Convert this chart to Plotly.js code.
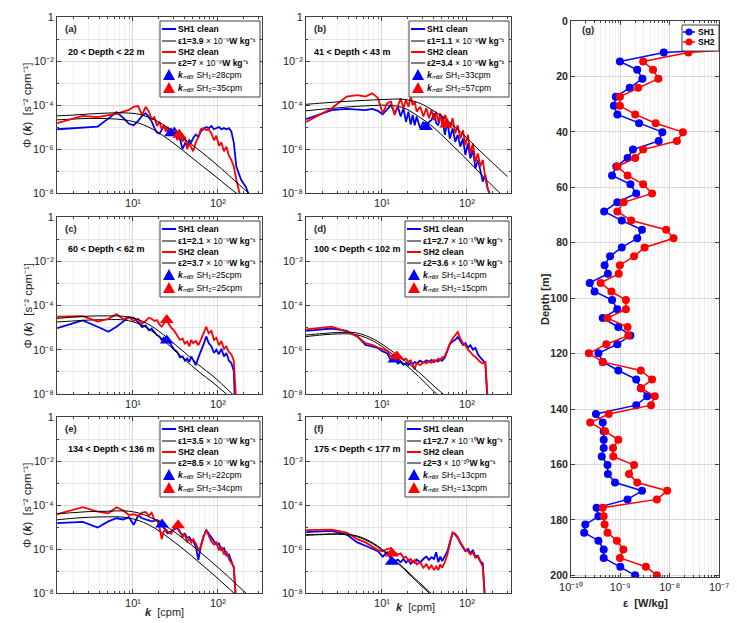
<!DOCTYPE html>
<html>
<head>
<meta charset="utf-8">
<script src="https://cdn.plot.ly/plotly-3.0.1.min.js"></script>
<style>
  body { margin: 0; background: #fff; }
  #chart { width: 737px; height: 623px; }
</style>
</head>
<body>
<div id="chart"></div>
<script>
// wavenumber grid of the shear spectra [cpm]
const kGrid = [1.28, 2.56, 3.84, 5.12, 6.4, 7.68, 8.96, 10.2, 11.5, 12.8, 14.1, 15.4, 16.6, 17.9, 19.2, 20.5,
  21.8, 23.0, 24.3, 25.6, 28.2, 30.7, 33.3, 35.8, 38.4, 41.0, 43.5, 46.1, 48.6, 51.2, 55, 59, 63, 68, 73, 78,
  84, 90, 96, 103, 110, 118, 126, 135, 144, 154, 165, 176, 188, 200, 215, 230, 245];
// wavenumbers of the fitted model spectra
const modelK = [1.25, 2, 3, 5, 8, 12, 18, 27, 40, 60, 90, 135, 200, 300];

// (a) 20 < depth < 22 m
const aSH1 = [7.9e-6, 9.3e-6, 1.05e-5, 2.4e-5, 4.7e-5, 2.6e-5, 1.4e-5, 1.2e-5, 1.9e-5, 3.2e-5, 4.2e-5, 2.8e-5,
  1.8e-5, 8.9e-6, 5.6e-6, 5.0e-6, 7.9e-6, 1.05e-5, 8.9e-6, 6.3e-6, 5.6e-6, 8.9e-6, 5.6e-6, 2.8e-6, 1.0e-6,
  1.8e-6, 1.4e-6, 2.5e-6, 2.0e-6, 3.2e-6, 4.5e-6, 3.5e-6, 6.3e-6, 7.9e-6, 1.0e-5, 8.9e-6, 1.1e-5, 7.9e-6,
  8.9e-6, 1.0e-5, 7.9e-6, 8.9e-6, 7.9e-6, 8.9e-6, 6.3e-6, 2.0e-6, 1.6e-7, 7.9e-8, 4.0e-8, 2.8e-8, 1.8e-8, 8.9e-9];
const aSH2 = [1.5e-5, 3.2e-5, 2.8e-5, 3.5e-5, 4.0e-5, 5.0e-5, 6.0e-5, 8.3e-5, 8.9e-5, 3.5e-5, 8.3e-5, 5.0e-5,
  2.2e-5, 2.8e-5, 1.1e-5, 1.8e-5, 7.9e-6, 1.26e-5, 6.3e-6, 1.0e-5, 4.5e-6, 7.1e-6, 2.5e-6, 5.0e-6, 2.2e-6,
  3.5e-6, 1.0e-6, 1.8e-6, 1.1e-6, 7.9e-7, 2.0e-6, 3.5e-6, 7.9e-6, 8.9e-6, 7.1e-6, 7.9e-6, 5.0e-6, 2.5e-6,
  4.0e-6, 1.4e-6, 2.0e-6, 7.9e-7, 1.26e-6, 5.0e-7, 3.2e-7, 1.6e-7, 4.0e-8, 1.1e-8, 5.0e-9];
const aEps1 = [2.1e-5, 2.3e-5, 2.45e-5, 2.4e-5, 2.1e-5, 1.45e-5, 7.1e-6, 2.5e-6, 7.8e-7, 2.2e-7, 6.5e-8, 1.8e-8, 5.6e-9, 1.6e-9];
const aEps2 = [3.2e-5, 3.5e-5, 3.9e-5, 4.3e-5, 4.4e-5, 3.7e-5, 2.1e-5, 8.3e-6, 2.9e-6, 8.9e-7, 2.5e-7, 6.3e-8, 1.6e-8, 4.5e-9];
const aKmax = [28, 35];
const aKmaxPhi = [5.2e-6, 4.5e-6];

// (b) 41 < depth < 43 m
const bSH1 = [2.3e-5, 5.9e-5, 6.6e-5, 6.3e-5, 5.9e-5, 6.6e-5, 5.4e-5, 3.8e-5, 6.6e-5, 1.0e-4, 4.2e-5, 8.3e-5,
  3.0e-5, 7.1e-5, 1.7e-5, 5.0e-5, 1.3e-5, 3.5e-5, 1.2e-5, 3.0e-5, 8.7e-6, 1.7e-5, 1.05e-5, 1.7e-5, 2.1e-5,
  4.2e-5, 1.5e-5, 1.2e-5, 3.5e-5, 3.0e-5, 4.4e-6, 1.7e-5, 3.0e-6, 8.7e-6, 2.1e-6, 4.4e-6, 1.3e-6, 3.0e-6,
  5.4e-7, 1.8e-6, 3.8e-7, 8.9e-7, 1.3e-7, 3.2e-7, 1.1e-7, 3.3e-8, 6.6e-8, 1.6e-8, 8.1e-9];
const bSH2 = [1.7e-5, 7.1e-5, 2.4e-4, 2.8e-4, 2.4e-4, 3.4e-4, 2.1e-4, 4.2e-5, 1.2e-4, 1.4e-4, 3.5e-5, 1.0e-4,
  2.0e-4, 7.1e-5, 1.7e-4, 8.3e-5, 2.4e-4, 1.0e-4, 1.4e-4, 5.0e-5, 8.3e-5, 3.0e-5, 7.1e-5, 2.5e-5, 5.9e-5,
  2.1e-5, 5.0e-5, 1.7e-5, 4.2e-5, 1.2e-5, 3.5e-5, 2.1e-5, 8.7e-6, 2.5e-5, 5.1e-6, 1.2e-5, 3.0e-6, 7.2e-6,
  1.5e-6, 4.4e-6, 6.3e-7, 1.8e-6, 2.6e-7, 6.3e-7, 1.6e-7, 3.2e-7, 4.7e-8, 1.6e-8, 8.1e-9];
const bEps1 = [5.4e-5, 6.5e-5, 7.4e-5, 8.7e-5, 9.5e-5, 9.8e-5, 7.4e-5, 3.0e-5, 1.0e-5, 2.3e-6, 5.0e-7, 1.0e-7, 2.1e-8, 5.0e-9];
const bEps2 = [1.07e-4, 1.23e-4, 1.38e-4, 1.55e-4, 1.7e-4, 1.82e-4, 1.82e-4, 1.26e-4, 5.6e-5, 1.86e-5, 4.7e-6, 1.0e-6, 2.4e-7, 5.6e-8];
const bKmax = [33, 57];
const bKmaxPhi = [1.0e-5, 1.3e-5];

// (c) 60 < depth < 62 m
const cSH1 = [9.5e-6, 2.1e-5, 1.1e-5, 6.5e-6, 1.1e-5, 2.0e-5, 3.0e-5, 2.8e-5, 1.8e-5, 1.05e-5, 1.26e-5, 7.6e-6,
  8.9e-6, 6.3e-6, 4.5e-6, 4.0e-6, 2.75e-6, 3.5e-6, 2.5e-6, 2.8e-6, 1.6e-6, 1.0e-6, 7.9e-7, 4.5e-7, 5.0e-7,
  3.2e-7, 4.0e-7, 2.8e-7, 5.0e-7, 3.5e-7, 2.0e-7, 4.5e-7, 7.9e-7, 1.8e-6, 4.0e-6, 2.0e-6, 1.4e-6, 7.1e-7,
  1.0e-6, 6.3e-7, 1.1e-6, 5.0e-7, 7.1e-7, 3.2e-7, 2.5e-7, 1.1e-7, 1.0e-10];
const cSH2 = [3.1e-5, 3.3e-5, 1.9e-5, 2.5e-5, 4.1e-5, 2.4e-5, 3.0e-5, 2.0e-5, 2.5e-5, 1.5e-5, 2.0e-5, 2.8e-5,
  2.5e-5, 2.0e-5, 2.2e-5, 1.4e-5, 1.1e-5, 1.6e-5, 2.0e-5, 1.8e-5, 1.0e-5, 7.1e-6, 4.5e-6, 2.8e-6, 3.2e-6,
  1.8e-6, 2.5e-6, 1.4e-6, 2.8e-6, 2.0e-6, 2.5e-6, 1.6e-6, 2.8e-6, 6.3e-6, 1.1e-5, 5.6e-6, 7.1e-6, 2.8e-6,
  3.5e-6, 1.6e-6, 2.5e-6, 1.1e-6, 1.4e-6, 7.9e-7, 6.3e-7, 3.2e-7, 3.2e-9];
const cEps1 = [1.8e-5, 2.0e-5, 2.2e-5, 2.3e-5, 2.2e-5, 1.45e-5, 5.6e-6, 1.5e-6, 3.8e-7, 1.0e-7, 3.0e-8, 7.9e-9, 2.0e-9, 5.0e-10];
const cEps2 = [2.6e-5, 3.0e-5, 3.3e-5, 3.4e-5, 3.2e-5, 2.2e-5, 9.5e-6, 2.8e-6, 7.9e-7, 2.0e-7, 5.9e-8, 1.4e-8, 3.5e-9, 1.0e-9];
const cKmax = [25, 25];
const cKmaxPhi = [2.6e-6, 2.2e-5];

// (d) 100 < depth < 102 m
const dSH1 = [7.1e-6, 9.1e-6, 7.1e-6, 4.0e-6, 1.66e-6, 1.45e-6, 1.2e-6, 8.3e-7, 7.1e-7, 3.2e-7, 4.5e-7, 2.4e-7,
  2.8e-7, 2.1e-7, 2.5e-7, 2.0e-7, 2.6e-7, 2.2e-7, 2.8e-7, 2.4e-7, 3.2e-7, 2.6e-7, 3.3e-7, 2.75e-7, 3.5e-7,
  2.8e-7, 3.3e-7, 3.0e-7, 3.8e-7, 3.2e-7, 4.5e-7, 8.9e-7, 1.8e-6, 2.4e-6, 2.8e-6, 3.8e-6, 2.5e-6, 1.66e-6,
  2.0e-6, 1.26e-6, 1.6e-6, 1.0e-6, 1.2e-6, 6.3e-7, 4.5e-7, 3.2e-7, 2.5e-7, 3.2e-9];
const dSH2 = [8.3e-6, 1.1e-5, 6.6e-6, 4.0e-6, 2.0e-6, 1.66e-6, 1.26e-6, 1.05e-6, 8.9e-7, 5.0e-7, 6.3e-7, 4.2e-7,
  5.0e-7, 3.5e-7, 4.0e-7, 2.8e-7, 3.3e-7, 2.2e-7, 1.3e-7, 2.5e-7, 2.0e-7, 2.8e-7, 2.4e-7, 3.2e-7, 2.6e-7,
  3.5e-7, 3.0e-7, 4.0e-7, 3.3e-7, 4.5e-7, 5.0e-7, 1.0e-6, 1.9e-6, 3.2e-6, 4.5e-6, 6.3e-6, 3.2e-6, 2.0e-6,
  1.6e-6, 1.0e-6, 7.9e-7, 5.6e-7, 4.8e-7, 3.5e-7, 2.8e-7, 2.4e-7, 2.8e-7, 6.3e-9];
const dEps1 = [3.9e-6, 4.7e-6, 5.2e-6, 4.8e-6, 2.4e-6, 8.5e-7, 2.5e-7, 6.3e-8, 1.4e-8, 3.5e-9, 8.9e-10, 2.2e-10, 5.6e-11, 1.4e-11];
const dEps2 = [4.6e-6, 5.4e-6, 6.0e-6, 5.8e-6, 3.0e-6, 1.1e-6, 3.5e-7, 1.0e-7, 2.5e-8, 6.3e-9, 1.6e-9, 4.0e-10, 1.0e-10, 2.5e-11];
const dKmax = [14, 15];
const dKmaxPhi = [3.6e-7, 5.0e-7];

// (e) 134 < depth < 136 m
const eSH1 = [1.5e-5, 1.7e-5, 9.5e-6, 1.8e-5, 2.5e-5, 2.2e-5, 2.8e-5, 1.26e-5, 3.3e-5, 2.5e-5, 2.2e-5, 2.0e-5,
  1.8e-5, 1.9e-5, 2.1e-5, 1.8e-5, 1.26e-5, 8.9e-6, 7.1e-6, 5.2e-6, 6.3e-6, 7.9e-6, 8.9e-6, 5.6e-6, 4.4e-6,
  5.0e-6, 3.2e-6, 3.5e-6, 2.5e-6, 2.2e-6, 1.26e-6, 3.2e-7, 1.4e-6, 4.0e-6, 7.2e-6, 5.0e-6, 3.2e-6, 2.5e-6,
  1.6e-6, 1.8e-6, 8.9e-7, 1.1e-6, 5.0e-7, 5.6e-7, 2.5e-7, 1.4e-7, 2.5e-9];
const eSH2 = [3.8e-5, 7.9e-5, 5.0e-5, 4.2e-5, 7.9e-5, 5.6e-5, 3.5e-5, 3.8e-5, 3.2e-5, 4.5e-5, 4.8e-5, 3.2e-5,
  4.5e-5, 2.1e-5, 2.0e-5, 1.0e-5, 2.8e-6, 6.3e-6, 7.9e-6, 6.3e-6, 5.0e-6, 8.9e-6, 1.1e-5, 6.3e-6, 3.5e-6,
  4.5e-6, 2.2e-6, 2.8e-6, 2.0e-6, 2.8e-6, 1.8e-6, 8.9e-7, 1.26e-6, 3.5e-6, 7.2e-6, 4.0e-6, 2.2e-6, 1.6e-6,
  2.0e-6, 8.9e-7, 1.26e-6, 5.6e-7, 7.9e-7, 3.5e-7, 2.5e-7, 1.6e-7, 3.2e-9];
const eEps1 = [2.1e-5, 2.5e-5, 2.75e-5, 2.9e-5, 2.75e-5, 1.9e-5, 8.9e-6, 3.0e-6, 9.3e-7, 2.5e-7, 6.6e-8, 1.6e-8, 4.0e-9, 1.0e-9];
const eEps2 = [4.0e-5, 4.5e-5, 5.0e-5, 5.2e-5, 5.4e-5, 4.2e-5, 2.2e-5, 8.5e-6, 2.8e-6, 7.9e-7, 2.1e-7, 5.2e-8, 1.26e-8, 3.2e-9];
const eKmax = [22, 34];
const eKmaxPhi = [1.3e-5, 1.2e-5];

// (f) 175 < depth < 177 m
const fSH1 = [5.8e-6, 6.6e-6, 4.5e-6, 2.0e-6, 1.4e-6, 1.05e-6, 7.9e-7, 4.5e-7, 7.1e-7, 3.5e-7, 2.8e-7, 3.3e-7,
  2.5e-7, 3.5e-7, 2.4e-7, 3.2e-7, 2.1e-7, 2.8e-7, 2.4e-7, 3.3e-7, 2.5e-7, 3.5e-7, 4.5e-7, 3.2e-7, 4.2e-7,
  3.5e-7, 7.1e-7, 2.5e-7, 4.5e-7, 2.8e-7, 5.0e-7, 7.9e-7, 2.0e-6, 5.6e-6, 4.5e-6, 3.2e-6, 1.8e-6, 1.1e-6,
  7.9e-7, 1.0e-6, 6.3e-7, 8.9e-7, 4.5e-7, 5.0e-7, 2.8e-7, 2.2e-7, 2.5e-9];
const fSH2 = [7.2e-6, 7.6e-6, 5.6e-6, 2.8e-6, 2.0e-6, 1.26e-6, 8.9e-7, 7.9e-7, 1.0e-6, 1.1e-6, 7.1e-7, 5.6e-7,
  6.3e-7, 4.0e-7, 4.5e-7, 2.8e-7, 3.5e-7, 2.5e-7, 3.2e-7, 2.0e-7, 2.5e-7, 1.4e-7, 2.0e-7, 1.26e-7, 1.8e-7,
  1.1e-7, 1.6e-7, 1.1e-7, 2.0e-7, 1.4e-7, 2.5e-7, 5.6e-7, 1.6e-6, 5.6e-6, 5.0e-6, 3.5e-6, 2.0e-6, 1.26e-6,
  8.9e-7, 7.9e-7, 5.6e-7, 7.1e-7, 4.0e-7, 4.5e-7, 2.5e-7, 1.6e-7, 3.2e-9];
const fEps1 = [4.2e-6, 4.5e-6, 4.7e-6, 3.7e-6, 1.6e-6, 5.0e-7, 1.26e-7, 2.75e-8, 6.9e-9, 1.7e-9, 4.4e-10, 1.1e-10, 2.75e-11, 6.9e-12];
const fEps2 = [4.4e-6, 4.7e-6, 4.9e-6, 4.0e-6, 1.8e-6, 5.6e-7, 1.4e-7, 3.2e-8, 7.9e-9, 2.0e-9, 5.0e-10, 1.26e-10, 3.2e-11, 7.9e-12];
const fKmax = [13, 13];
const fKmaxPhi = [2.6e-7, 6.3e-7];

// panel texts
const panelTags = ['(a)', '(b)', '(c)', '(d)', '(e)', '(f)'];
const depthLabels = ['20 < Depth < 22 m', '41 < Depth < 43 m', '60 < Depth < 62 m',
  '100 < Depth < 102 m', '134 < Depth < 136 m', '175 < Depth < 177 m'];
const eps1Values = ['3.9', '1.1', '2.1', '2.7', '3.5', '2.7'];
const eps1Powers = ['⁻⁹', '⁻⁸', '⁻⁹', '⁻¹⁰', '⁻⁹', '⁻¹⁰'];
const eps2Values = ['7', '3.4', '3.7', '3.6', '8.5', '3'];
const eps2Powers = ['⁻⁹', '⁻⁸', '⁻⁹', '⁻¹⁰', '⁻⁹', '⁻¹⁰'];

// (g) dissipation profile
const depth = [8.2, 11.4, 14.6, 17.6, 20.8, 24.1, 27.3, 30.6, 33.7, 36.9, 40.1, 43.3, 46.4, 49.4, 52.5, 55.7,
  58.9, 62.2, 65.4, 68.7, 72.0, 75.3, 78.4, 81.7, 84.9, 88.1, 91.2, 94.5, 97.6, 100.7, 104.0, 107.2, 110.4,
  113.5, 116.6, 119.9, 123.0, 126.1, 129.3, 132.5, 135.4, 138.6, 141.8, 144.9, 148.0, 151.1, 154.1, 157.1,
  160.2, 163.4, 166.5, 169.5, 172.6, 175.6, 178.7, 181.7, 184.6, 187.5, 190.7, 193.7, 196.9, 200.0];
const epsSH1 = [2.5e-5, 7.6e-9, 9.8e-10, 2.2e-9, 2.8e-9, 1.55e-9, 8.1e-10, 7.4e-10, 8.7e-10, 2.4e-9, 7.1e-9,
  6.0e-9, 1.8e-9, 1.4e-9, 8.3e-10, 6.8e-10, 1.6e-9, 2.1e-9, 8.7e-10, 4.7e-10, 1.07e-9, 2.75e-9, 2.2e-9,
  1.07e-9, 6.2e-10, 4.8e-10, 5.6e-10, 2.4e-10, 3.0e-10, 6.8e-10, 8.7e-10, 4.4e-10, 9.1e-10, 1.6e-9, 8.7e-10,
  3.6e-10, 4.4e-10, 9.1e-10, 2.1e-9, 2.6e-9, 3.5e-9, 2.1e-9, 3.2e-10, 4.4e-10, 4.6e-10, 4.6e-10, 4.6e-10,
  4.2e-10, 5.5e-10, 5.6e-10, 7.8e-10, 2.75e-9, 1.4e-9, 3.3e-10, 3.6e-10, 1.95e-10, 1.85e-10, 3.6e-10,
  4.6e-10, 4.6e-10, 1.0e-9, 2.0e-9];
const epsSH2 = [8.0e-6, 2.4e-8, 2.9e-9, 4.6e-9, 5.9e-9, 2.3e-9, 9.8e-10, 9.8e-10, 2.0e-9, 5.2e-9, 1.86e-8,
  1.4e-8, 2.9e-9, 2.0e-9, 8.7e-10, 1.4e-9, 2.9e-9, 4.4e-9, 1.17e-9, 8.7e-10, 1.66e-9, 8.5e-9, 1.2e-8,
  3.1e-9, 1.9e-9, 9.8e-10, 9.3e-10, 4.0e-10, 6.6e-10, 1.3e-9, 1.3e-9, 5.5e-10, 1.4e-9, 1.45e-9, 5.2e-10,
  2.3e-10, 4.4e-10, 2.6e-9, 4.4e-9, 2.6e-9, 5.0e-9, 4.2e-9, 5.8e-10, 2.45e-10, 4.9e-10, 9.1e-10, 7.1e-10,
  7.2e-10, 1.9e-9, 1.5e-9, 2.2e-9, 8.9e-9, 5.5e-9, 4.4e-10, 4.6e-10, 4.8e-10, 5.5e-10, 8.5e-10, 1.15e-9,
  9.8e-10, 3.3e-9, 5.5e-9];

const panels = [
  {sh1: aSH1, sh2: aSH2, e1: aEps1, e2: aEps2, km: aKmax, kp: aKmaxPhi},
  {sh1: bSH1, sh2: bSH2, e1: bEps1, e2: bEps2, km: bKmax, kp: bKmaxPhi},
  {sh1: cSH1, sh2: cSH2, e1: cEps1, e2: cEps2, km: cKmax, kp: cKmaxPhi},
  {sh1: dSH1, sh2: dSH2, e1: dEps1, e2: dEps2, km: dKmax, kp: dKmaxPhi},
  {sh1: eSH1, sh2: eSH2, e1: eEps1, e2: eEps2, km: eKmax, kp: eKmaxPhi},
  {sh1: fSH1, sh2: fSH2, e1: fEps1, e2: fEps2, km: fKmax, kp: fKmaxPhi},
];

const W = 737, H = 623;
const FONT = 'Liberation Sans, Arial, sans-serif';
const BLUE = '#0000ff', RED = '#ff0000';
const AXC = '#404040';
const px = (x) => x / W;
const py = (y) => 1 - y / H;

// pixel boxes of the panels [left, right, top, bottom]
const boxes = [
  [57, 262, 17, 193], [306, 511, 17, 193],
  [57, 262, 217, 394], [306, 511, 217, 394],
  [57, 262, 417, 593], [306, 511, 417, 593],
];
const gBox = [571, 719, 21, 577];

const minorDecades = (from, to) => {
  const out = [];
  for (let e = from; e < to; e++) for (let m = 2; m <= 9; m++) out.push(m * Math.pow(10, e));
  return out;
};

const traces = [];
const shapes = [];
const annotations = [];

// legend drawn in the MATLAB way: small box, short samples, tight rows
function drawLegend(left, top, width, rowY, entries, fontSize) {
  const height = rowY[rowY.length - 1] + 9;
  shapes.push({type: 'rect', xref: 'paper', yref: 'paper', layer: 'above',
    x0: px(left), x1: px(left + width), y0: py(top), y1: py(top + height),
    line: {color: AXC, width: 1}, fillcolor: '#fff'});
  entries.forEach((en, j) => {
    const cy = top + rowY[j];
    if (en.kind === 'line' || en.kind === 'linedot') {
      shapes.push({type: 'line', xref: 'paper', yref: 'paper', layer: 'above',
        x0: px(left + en.x0), x1: px(left + en.x1), y0: py(cy), y1: py(cy),
        line: {color: en.color, width: en.width}});
    }
    if (en.kind === 'linedot') {
      const cx = left + en.cx;
      shapes.push({type: 'circle', xref: 'paper', yref: 'paper', layer: 'above',
        x0: px(cx - 3.5), x1: px(cx + 3.5), y0: py(cy - 3.5), y1: py(cy + 3.5),
        fillcolor: en.color, line: {color: en.color, width: 0}});
    }
    if (en.kind === 'tri') {
      const cx = left + en.cx;
      shapes.push({type: 'path', xref: 'paper', yref: 'paper', layer: 'above',
        path: `M ${px(cx - 6)} ${py(cy + 5)} L ${px(cx + 6)} ${py(cy + 5)} L ${px(cx)} ${py(cy - 6)} Z`,
        fillcolor: en.color, line: {color: en.color, width: 0}});
    }
    annotations.push({xref: 'paper', yref: 'paper', x: px(left + en.tx), y: py(cy),
      xanchor: 'left', yanchor: 'middle', showarrow: false, text: en.text,
      font: {size: fontSize, color: '#000'}});
  });
}

const layout = {
  width: W, height: H, autosize: false, showlegend: false,
  margin: {l: 0, r: 0, t: 0, b: 0},
  paper_bgcolor: '#fff', plot_bgcolor: '#fff',
  font: {family: FONT, size: 10, color: '#262626'},
};

panels.forEach((p, i) => {
  const n = i === 0 ? '' : String(i + 1);
  const xa = 'x' + n, ya = 'y' + n;
  const [l, r, t, b] = boxes[i];

  traces.push({x: kGrid.slice(0, p.sh1.length), y: p.sh1, xaxis: xa, yaxis: ya,
    mode: 'lines', line: {color: BLUE, width: 1.8}, name: 'SH1 clean'});
  traces.push({x: modelK, y: p.e1, xaxis: xa, yaxis: ya,
    mode: 'lines', line: {color: '#000', width: 1, shape: 'spline'}, name: 'ε1'});
  traces.push({x: kGrid.slice(0, p.sh2.length), y: p.sh2, xaxis: xa, yaxis: ya,
    mode: 'lines', line: {color: RED, width: 1.8}, name: 'SH2 clean'});
  traces.push({x: modelK, y: p.e2, xaxis: xa, yaxis: ya,
    mode: 'lines', line: {color: '#000', width: 1, shape: 'spline'}, name: 'ε2'});
  traces.push({x: [p.km[0]], y: [p.kp[0]], xaxis: xa, yaxis: ya,
    mode: 'markers', marker: {symbol: 'triangle-up', size: 12, color: BLUE}, name: 'kmax SH1'});
  traces.push({x: [p.km[1]], y: [p.kp[1]], xaxis: xa, yaxis: ya,
    mode: 'markers', marker: {symbol: 'triangle-up', size: 12, color: RED}, name: 'kmax SH2'});

  layout['xaxis' + n] = {
    domain: [px(l), px(r)], anchor: ya, type: 'log', range: [0.105, 2.52],
    tickmode: 'array', tickvals: [10, 100], ticktext: ['10¹', '10²'],
    ticks: 'inside', ticklen: 4, tickcolor: AXC, mirror: 'allticks',
    showline: true, linecolor: AXC, linewidth: 1, showgrid: true, gridcolor: '#d9d9d9', zeroline: false,
    tickfont: {size: 11, color: '#262626'},
    minor: {tickmode: 'array', tickvals: minorDecades(0, 3), ticks: 'inside', ticklen: 2, tickcolor: AXC,
      showgrid: true, gridcolor: '#efefef'},
  };
  layout['yaxis' + n] = {
    domain: [py(b), py(t)], anchor: xa, type: 'log', range: [-8, 0],
    tickmode: 'array', tickvals: [1e-8, 1e-6, 1e-4, 1e-2, 1],
    ticktext: ['10⁻⁸', '10⁻⁶', '10⁻⁴', '10⁻²', '1'],
    ticks: 'inside', ticklen: 4, tickcolor: AXC, mirror: 'allticks',
    showline: true, linecolor: AXC, linewidth: 1, showgrid: true, gridcolor: '#d9d9d9', zeroline: false,
    tickfont: {size: 11, color: '#262626'},
    minor: {tickmode: 'array', tickvals: [1e-7, 1e-5, 1e-3, 1e-1], ticks: 'inside', ticklen: 2,
      tickcolor: AXC, showgrid: true, gridcolor: '#e6e6e6'},
  };

  const wide = eps1Powers[i] === '⁻¹⁰';
  const lw = wide ? 104 : 100;
  drawLegend(r - lw - 2, t + 4, lw, [8, 20, 31, 42, 54, 67], [
    {kind: 'line', color: BLUE, width: 2, x0: 2, x1: 16, tx: 16, text: '<b>SH1 clean</b>'},
    {kind: 'line', color: '#000', width: 1, x0: 2, x1: 16, tx: 16,
      text: '<b>ε1=' + eps1Values[i] + '</b> × 10' + eps1Powers[i] + '<b>W kg⁻¹</b>'},
    {kind: 'line', color: RED, width: 2, x0: 2, x1: 16, tx: 16, text: '<b>SH2 clean</b>'},
    {kind: 'line', color: '#000', width: 1, x0: 2, x1: 16, tx: 16,
      text: '<b>ε2=' + eps2Values[i] + '</b> × 10' + eps2Powers[i] + '<b>W kg⁻¹</b>'},
    {kind: 'tri', color: BLUE, cx: 9, tx: 16, text: '<b><i>k</i></b><i>ₘₐₓ</i> SH₁=' + p.km[0] + 'cpm'},
    {kind: 'tri', color: RED, cx: 9, tx: 16, text: '<b><i>k</i></b><i>ₘₐₓ</i> SH₂=' + p.km[1] + 'cpm'},
  ], 8.5);

  annotations.push({xref: xa + ' domain', yref: ya + ' domain', x: 0.03, y: 0.935,
    xanchor: 'left', yanchor: 'middle', showarrow: false, text: '<b>' + panelTags[i] + '</b>',
    font: {size: 9.5, color: '#262626'}});
  annotations.push({xref: xa + ' domain', yref: ya + ' domain', x: i % 2 === 0 ? 0.045 : 0.03,
    y: i < 2 ? 0.8 : 0.82, xanchor: 'left', yanchor: 'middle', showarrow: false,
    text: '<b>' + depthLabels[i] + '</b>', font: {size: 9, color: '#000'}});
  if (i % 2 === 0) {
    annotations.push({xref: 'paper', yref: 'paper', x: px(27), y: py((t + b) / 2), textangle: -90,
      xanchor: 'center', yanchor: 'middle', showarrow: false,
      text: 'Φ (<b><i>k</i></b>)  [s⁻² cpm⁻¹]', font: {size: 11.5, color: '#262626'}});
  }
  if (i >= 4) {
    annotations.push({xref: 'paper', yref: 'paper', x: px(i === 4 ? 143 : 394), y: py(i === 4 ? 612 : 607),
      xanchor: 'left', yanchor: 'middle', showarrow: false,
      text: '<b><i>k</i></b>  [cpm]', font: {size: 11, color: '#262626'}});
  }
});

// (g)
traces.push({x: epsSH1, y: depth, xaxis: 'x7', yaxis: 'y7', name: 'SH1',
  mode: 'lines+markers', line: {color: BLUE, width: 1.5}, marker: {color: BLUE, size: 8}});
traces.push({x: epsSH2, y: depth, xaxis: 'x7', yaxis: 'y7', name: 'SH2',
  mode: 'lines+markers', line: {color: RED, width: 1.5}, marker: {color: RED, size: 8}});

layout.xaxis7 = {
  domain: [px(gBox[0]), px(gBox[1])], anchor: 'y7', type: 'log', range: [-10, -7],
  tickmode: 'array', tickvals: [1e-10, 1e-9, 1e-8, 1e-7],
  ticktext: ['10⁻¹⁰', '10⁻⁹', '10⁻⁸', '10⁻⁷'],
  ticks: 'inside', ticklen: 4, tickcolor: AXC, mirror: 'allticks',
  showline: true, linecolor: AXC, linewidth: 1, showgrid: true, gridcolor: '#d9d9d9', zeroline: false,
  tickfont: {size: 11, color: '#262626'},
  minor: {tickmode: 'array', tickvals: minorDecades(-10, -7), ticks: 'inside', ticklen: 2, tickcolor: AXC,
    showgrid: true, gridcolor: '#efefef'},
};
layout.yaxis7 = {
  domain: [py(gBox[3]), py(gBox[2])], anchor: 'x7', range: [200.6, 0],
  tickmode: 'array', tickvals: [0, 20, 40, 60, 80, 100, 120, 140, 160, 180, 200],
  ticks: 'inside', ticklen: 4, tickcolor: AXC, mirror: 'allticks',
  showline: true, linecolor: AXC, linewidth: 1, showgrid: true, gridcolor: '#d9d9d9', zeroline: false,
  tickfont: {size: 10.5, color: '#262626', weight: 'bold'},
};
drawLegend(682, 25, 37, [7, 17], [
  {kind: 'linedot', color: BLUE, width: 1.5, x0: 1, x1: 13, cx: 7, tx: 14, text: '<b>SH1</b>'},
  {kind: 'linedot', color: RED, width: 1.5, x0: 1, x1: 13, cx: 7, tx: 14, text: '<b>SH2</b>'},
], 8.5);

annotations.push({xref: 'x7 domain', yref: 'y7 domain', x: 0.06, y: 0.985, xanchor: 'left',
  yanchor: 'middle', showarrow: false, text: '<b>(g)</b>', font: {size: 9.5, color: '#262626'}});
annotations.push({xref: 'paper', yref: 'paper', x: px(545), y: py(299), textangle: -90,
  xanchor: 'center', yanchor: 'middle', showarrow: false, text: '<b>Depth [m]</b>',
  font: {size: 11, color: '#262626'}});
annotations.push({xref: 'paper', yref: 'paper', x: px(645), y: py(603),
  xanchor: 'center', yanchor: 'middle', showarrow: false, text: '<b>ε  [W/kg]</b>',
  font: {size: 11, color: '#262626'}});

layout.shapes = shapes;
layout.annotations = annotations;

Plotly.newPlot('chart', traces, layout, {displayModeBar: false, staticPlot: true});
</script>
</body>
</html>
